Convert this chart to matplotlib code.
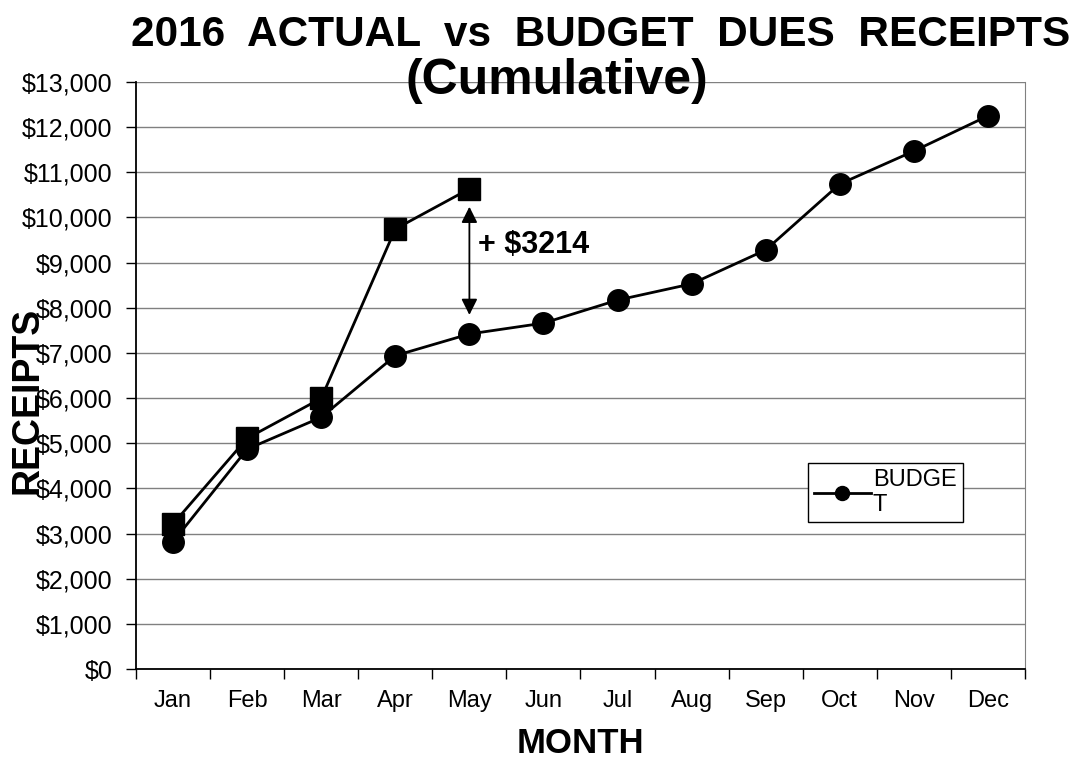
import matplotlib.pyplot as plt
from matplotlib.ticker import FuncFormatter

plt.rcParams['font.family'] = ['Liberation Sans', 'DejaVu Sans']

months = ["Jan", "Feb", "Mar", "Apr", "May", "Jun", "Jul", "Aug", "Sep", "Oct", "Nov", "Dec"]
budget = [2820, 4870, 5575, 6940, 7420, 7660, 8170, 8530, 9280, 10740, 11470, 12250]
actual = [3215, 5110, 5995, 9745, 10634]
gap_label = "+ $3214"

x = list(range(len(months)))

fig = plt.figure(figsize=(10.8, 7.58), dpi=100)
ax = fig.add_axes([0.126, 0.1174, 0.823, 0.7744])

ax.plot(x, budget, color="black", lw=2, marker="o", markersize=15.5, label="BUDGE\nT", zorder=3)
ax.plot(x[:len(actual)], actual, color="black", lw=2, marker="s", markersize=15.5, zorder=3)

# gap arrow at May
ax.annotate("", xy=(4, 10300), xytext=(4, 7780),
            arrowprops=dict(arrowstyle="<|-|>", color="black", lw=1.3, mutation_scale=24))
ax.text(4.12, 9400, gap_label, fontsize=22, fontweight="bold", va="center", ha="left")

ax.set_xlim(-0.5, 11.5)
ax.set_ylim(0, 13000)
ax.set_yticks(range(0, 13001, 1000))
ax.yaxis.set_major_formatter(FuncFormatter(lambda v, p: "${:,.0f}".format(v)))
ax.set_xticks(x)
ax.set_xticklabels(months)
ax.set_xticks([i - 0.5 for i in range(13)], minor=True)
ax.tick_params(axis="x", which="major", length=0, labelsize=17, pad=15)
ax.tick_params(axis="x", which="minor", length=7, width=1, direction="out")
ax.tick_params(axis="y", length=7, width=1, labelsize=18, pad=10)

ax.grid(axis="y", color="#808080", lw=1)
ax.set_axisbelow(True)
ax.spines["top"].set_visible(False)
ax.spines["right"].set_color("#808080")
ax.spines["left"].set_linewidth(1.3)
ax.spines["bottom"].set_linewidth(1.3)

ax.set_xlabel("MONTH", fontsize=25, fontweight="bold", labelpad=11)
ax.set_ylabel("RECEIPTS", fontsize=27, fontweight="bold")
ax.yaxis.set_label_coords(-0.102, 0.458)

fig.text(0.556, 0.954, "2016  ACTUAL  vs  BUDGET  DUES  RECEIPTS", fontsize=30.5,
         fontweight="bold", ha="center", va="center")
fig.text(0.516, 0.893, "(Cumulative)", fontsize=36, fontweight="bold", ha="center", va="center")

leg = ax.legend(loc="upper left", bbox_to_anchor=(0.756, 0.351), borderaxespad=0, fontsize=17,
                frameon=True, fancybox=False, edgecolor="black", framealpha=1, handlelength=2.4,
                markerscale=0.65, borderpad=0.25, handletextpad=0.1)
leg.get_frame().set_linewidth(1)

fig.savefig("out.png", dpi=100)
